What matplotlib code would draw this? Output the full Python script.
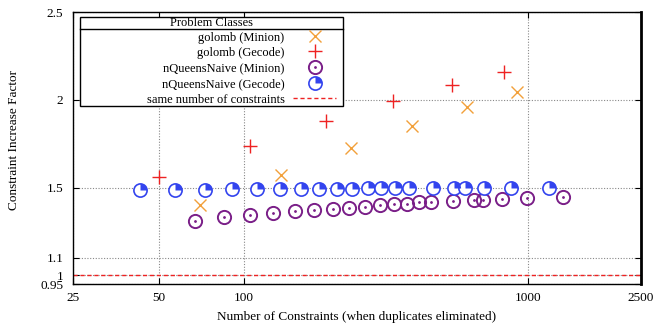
import matplotlib
matplotlib.use("Agg")
import matplotlib.pyplot as plt
from matplotlib.path import Path
from matplotlib.patches import Rectangle
from matplotlib.legend_handler import HandlerTuple
import numpy as np

plt.rcParams['font.family'] = ['Liberation Serif', 'DejaVu Serif']
plt.rcParams['font.size'] = 9

# golomb
golomb_minion_x = [70, 135, 238, 391, 610, 915]
golomb_minion_y = [1.40, 1.574, 1.727, 1.852, 1.96, 2.045]
golomb_gecode_x = [50, 105, 194, 335, 540, 824]
golomb_gecode_y = [1.562, 1.739, 1.88, 1.994, 2.085, 2.16]

# nQueensNaive
nq_minion_x = [67, 85, 105, 127, 151, 177, 205, 235, 267, 301,
               337, 375, 414, 457, 546, 646, 696, 808, 990, 1331]
nq_minion_y = [1.309, 1.331, 1.343, 1.356, 1.365, 1.373, 1.377, 1.385, 1.392, 1.399,
               1.405, 1.409, 1.415, 1.417, 1.424, 1.430, 1.430, 1.433, 1.439, 1.447]
nq_gecode_x = [43, 57, 73, 91, 111, 134, 159, 184, 212, 241,
               273, 305, 341, 381, 463, 550, 600, 700, 872, 1186]
nq_gecode_y = [1.487, 1.488, 1.489, 1.490, 1.491, 1.492, 1.493, 1.493, 1.494, 1.494,
               1.495, 1.495, 1.495, 1.496, 1.496, 1.496, 1.497, 1.497, 1.497, 1.497]

x_ticks = [25, 50, 100, 1000, 2500]
y_ticks = [0.95, 1, 1.1, 1.5, 2, 2.5]
y_tick_labels = ['0.95', '1', '1.1', '1.5', '2', '2.5']

labels = ['golomb (Minion)', 'golomb (Gecode)', 'nQueensNaive (Minion)',
          'nQueensNaive (Gecode)', 'same number of constraints']

# quarter pie marker (top-right quadrant)
theta = np.linspace(0, np.pi / 2, 20)
wedge_verts = [(0, 0)] + [(np.cos(t), np.sin(t)) for t in theta] + [(0, 0)]
wedge = Path(wedge_verts)

fig = plt.figure(figsize=(6.55, 3.23), dpi=100)
ax = fig.add_axes([0.1115, 0.1207, 0.867, 0.8413])
ax.set_xscale('log')
ax.set_xlim(25, 2500)
ax.set_ylim(0.95, 2.5)

ax.grid(True, which='major', color='#888888', linestyle=(0, (1, 1.5)), linewidth=0.8)
ax.set_axisbelow(True)

orange = '#f2a03a'
red = '#ee2222'
purple = '#7a1f88'
blue = '#3344ee'

h1, = ax.plot(golomb_minion_x, golomb_minion_y, 'x', color=orange, ms=9, mew=1.0, ls='none')
h2, = ax.plot(golomb_gecode_x, golomb_gecode_y, '+', color=red, ms=9.5, mew=1.0, ls='none')
h3a, = ax.plot(nq_minion_x, nq_minion_y, 'o', mfc='none', mec=purple, ms=9.5, mew=1.4, ls='none')
h3b, = ax.plot(nq_minion_x, nq_minion_y, '.', color=purple, ms=2, ls='none')
h4a, = ax.plot(nq_gecode_x, nq_gecode_y, 'o', mfc='white', mec=blue, ms=9.5, mew=1.2, ls='none')
h4b, = ax.plot(nq_gecode_x, nq_gecode_y, marker=wedge, color=blue, ms=9.5, mew=0, ls='none')
h5 = ax.axhline(1, color=red, linestyle=(0, (3, 2)), linewidth=1)

ax.set_xticks(x_ticks)
ax.set_xticklabels([str(t) for t in x_ticks])
ax.xaxis.set_minor_locator(matplotlib.ticker.NullLocator())
ax.set_yticks(y_ticks)
ax.set_yticklabels(y_tick_labels)
ax.tick_params(direction='in', top=True, right=True, length=4, labelsize=9.5)
ax.tick_params(axis='x', pad=6)
ax.tick_params(axis='y', pad=7)

for s in ax.spines.values():
    s.set_color('black')
    s.set_linewidth(1)
ax.spines['right'].set_linewidth(2)

ax.set_xlabel('Number of Constraints (when duplicates eliminated)', fontsize=9.5, labelpad=5)
ax.set_ylabel('Constraint Increase Factor', fontsize=9.5)
ax.yaxis.set_label_coords(-0.094, 0.53)

# legend: gnuplot style box with title row
leg = ax.legend([h1, h2, (h3a, h3b), (h4a, h4b), h5], labels,
                handler_map={tuple: HandlerTuple(ndivide=1)},
                markerfirst=False, loc='upper right',
                bbox_to_anchor=(0.465, 0.936), fontsize=9,
                frameon=False, labelspacing=0.22, handlelength=3.4,
                handleheight=1.0, handletextpad=0.7,
                borderpad=0.1, borderaxespad=0)
leg._legend_box.align = 'right'
for t in leg.get_texts():
    t.set_ha('right')

box = Rectangle((0.0123, 0.656), 0.4627, 0.328, transform=ax.transAxes,
                facecolor='white', edgecolor='black', linewidth=1, zorder=4)
ax.add_patch(box)
ax.plot([0.0123, 0.475], [0.938, 0.938], transform=ax.transAxes,
        color='black', linewidth=1, zorder=4.5)
ax.text(0.2437, 0.961, 'Problem Classes', transform=ax.transAxes,
        ha='center', va='center', fontsize=9, zorder=5)
leg.set_zorder(6)

fig.savefig('out.png', dpi=100)
